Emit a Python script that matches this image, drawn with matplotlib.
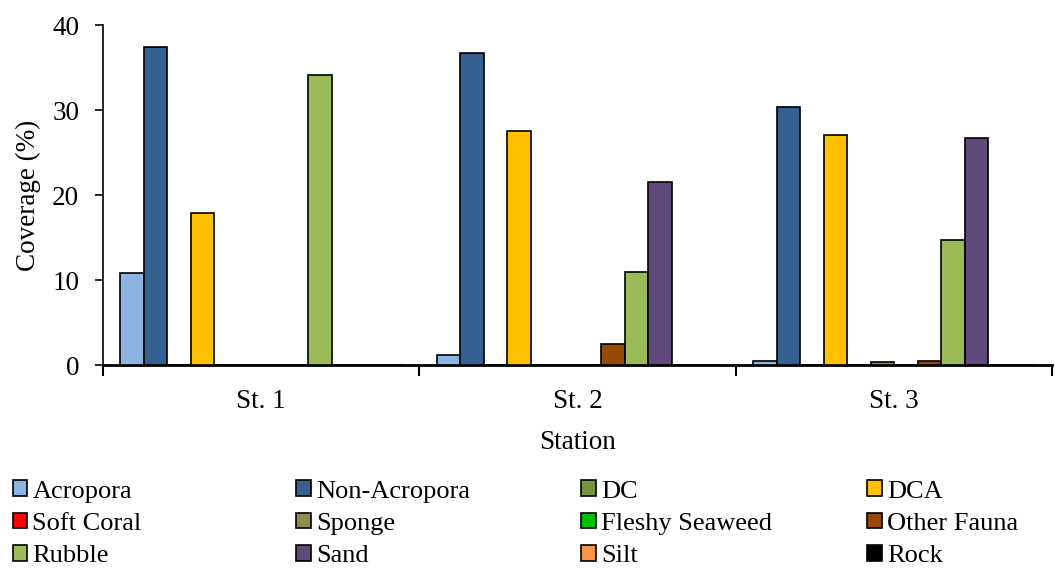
import numpy as np
import matplotlib.pyplot as plt
from matplotlib.patches import Patch

plt.rcParams['font.family'] = 'serif'
plt.rcParams['font.serif'] = ['Liberation Serif', 'DejaVu Serif']

# data
stations = ['St. 1', 'St. 2', 'St. 3']
categories = ['Acropora', 'Non-Acropora', 'DC', 'DCA',
              'Soft Coral', 'Sponge', 'Fleshy Seaweed', 'Other Fauna',
              'Rubble', 'Sand', 'Silt', 'Rock']
colors = ['#8EB4E3', '#376092', '#77933C', '#FFC000',
          '#FF0000', '#948A54', '#00C000', '#984807',
          '#9BBB59', '#604A7B', '#F79646', '#000000']

acropora = [10.8, 1.2, 0.5]
non_acropora = [37.4, 36.7, 30.3]
dc = [0, 0, 0]
dca = [17.9, 27.5, 27.1]
soft_coral = [0, 0, 0]
sponge = [0, 0, 0.3]
fleshy_seaweed = [0, 0, 0]
other_fauna = [0, 2.5, 0.5]
rubble = [34.1, 10.9, 14.7]
sand = [0, 21.5, 26.7]
silt = [0, 0, 0]
rock = [0, 0, 0]

values = [acropora, non_acropora, dc, dca, soft_coral, sponge,
          fleshy_seaweed, other_fauna, rubble, sand, silt, rock]

fig = plt.figure(figsize=(10.55, 5.69), dpi=100)
ax = fig.add_axes([0.0976, 0.3585, 0.900, 0.5975])

n = len(categories)
x = np.arange(len(stations))
width = 0.89 / n
for i in range(n):
    ax.bar(x - 0.445 + width * (i + 0.5), values[i], width,
           color=colors[i], edgecolor='black', linewidth=1.2, zorder=3)

ax.set_xlim(-0.5, 2.5)
ax.set_ylim(0, 40)
ax.set_yticks([0, 10, 20, 30, 40])
ax.set_xticks([-0.5, 0.5, 1.5, 2.5])
ax.set_xticklabels([])
ax.set_xticks(x, minor=True)
ax.set_xticklabels(stations, minor=True)
ax.tick_params(axis='x', which='major', direction='out', length=8, width=1.5)
ax.tick_params(axis='x', which='minor', length=0, pad=17, labelsize=19.5)
ax.tick_params(axis='y', direction='out', length=6, width=1.2, labelsize=19.5,
               pad=11)

for s in ['top', 'right']:
    ax.spines[s].set_visible(False)
ax.spines['left'].set_linewidth(1.2)
ax.spines['bottom'].set_linewidth(2)

ax.set_ylabel('Coverage (%)', fontsize=19.5, labelpad=8)
ax.set_xlabel('Station', fontsize=19.5, labelpad=12)

handles = [Patch(facecolor=colors[i], edgecolor='black', linewidth=1.2)
           for i in range(n)]
col_x = [0.012, 0.281, 0.551, 0.822]
for j in range(4):
    idx = [j, j + 4, j + 8]
    fig.legend([handles[k] for k in idx], [categories[k] for k in idx],
               loc='upper left', bbox_to_anchor=(col_x[j], 0.156),
               frameon=False, prop={'family': 'Liberation Serif', 'size': 19},
               handlelength=0.55, handleheight=0.55, handletextpad=0.2,
               labelspacing=0.38, borderpad=0, borderaxespad=0)

fig.savefig('out.png', dpi=100)
